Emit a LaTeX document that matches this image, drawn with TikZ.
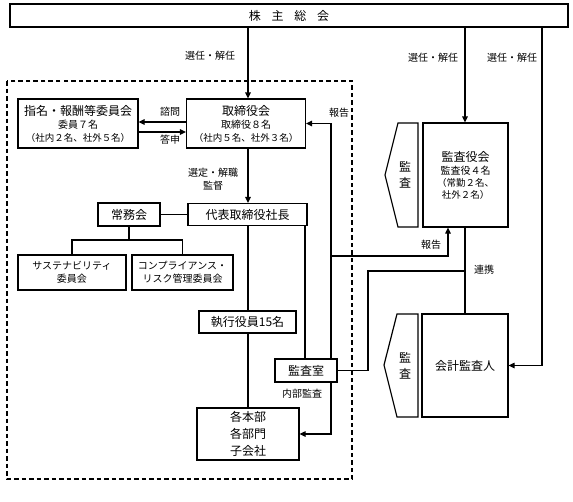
\documentclass[tikz,border=0pt]{standalone}
\usepackage{fontspec}
\setmainfont{Noto Sans CJK JP}
\usetikzlibrary{arrows.meta}
\newcommand{\fA}{\fontsize{12}{14}\selectfont}
\newcommand{\fB}{\fontsize{10}{12.5}\selectfont}
\newcommand{\fC}{\fontsize{9.5}{12}\selectfont}
\begin{document}
\begin{tikzpicture}[x=1pt,y=-1pt,
  box/.style={draw,line width=1.2pt,inner sep=0pt,align=center,font=\fA},
  lbl/.style={inner sep=0pt,align=center,font=\fB},
  ln/.style={line width=1.2pt},
  arr/.style={ln,-{Triangle[length=6pt,width=5.5pt]}},
]
\useasboundingbox (0,0) rectangle (573,501);
% frame of the board
\draw[line width=1.2pt,dash pattern=on 4.5pt off 3pt] (7,81) rectangle (352,479);
% nodes
\node[box,minimum width=558pt,minimum height=23pt] (sh) at (289,15.5) {株\hspace{0.9em}主\hspace{0.9em}総\hspace{0.9em}会};
\node[box,minimum width=120pt,minimum height=49pt] (nom) at (78,123.5) {指名・報酬等委員会\\[-1pt]{\fB 委員７名}\\[-1pt]{\fC （社内２名、社外５名）}};
\node[box,minimum width=119pt,minimum height=49pt] (board) at (246,123.5) {取締役会\\[-1pt]{\fB 取締役８名}\\[-1pt]{\fC （社内５名、社外３名）}};
\node[box,minimum width=62pt,minimum height=23pt] (jomu) at (129,214.5) {常務会};
\node[box,minimum width=119pt,minimum height=22pt] (pres) at (247.5,214.5) {代表取締役社長};
\node[box,minimum width=108pt,minimum height=35pt,font=\fB] (sus) at (72,272.5) {サステナビリティ\\委員会};
\node[box,minimum width=101pt,minimum height=35pt,font=\fB] (comp) at (182.5,272.5) {コンプライアンス・\\リスク管理委員会};
\node[box,minimum width=97pt,minimum height=22pt] (exec) at (247.5,322) {執行役員15名};
\node[box,minimum width=62pt,minimum height=23pt] (aud) at (306,370.5) {監査室};
\node[box,minimum width=102pt,minimum height=52pt,font=\fontsize{12}{17}\selectfont] (dep) at (248,434) {各本部\\各部門\\子会社};
\node[box,minimum width=85pt,minimum height=104pt] (kan) at (465.5,175) {監査役会\\[-1pt]{\fB 監査役４名}\\[-2pt]{\fC （常勤２名、}\\[-2pt]{\fC 社外２名）}};
\node[box,minimum width=86pt,minimum height=103pt] (kai) at (465,365.5) {会計監査人};
% pentagons
\draw[ln] (418,123) -- (398,123) -- (385,175) -- (398,227) -- (418,227) -- cycle;
\node[inner sep=0pt,align=center,font=\fontsize{12}{16}\selectfont] (p1) at (405,175) {監\\査};
\draw[ln] (418,314) -- (397,314) -- (384,365) -- (397,417) -- (418,417) -- cycle;
\node[inner sep=0pt,align=center,font=\fontsize{12}{16}\selectfont] (p2) at (405,366) {監\\査};
% column coordinates
\coordinate (xa) at (248,0);
\coordinate (xb) at (305,0);
\coordinate (xc) at (331,0);
\coordinate (xe) at (448,0);
\coordinate (xf) at (465,0);
\coordinate (xg) at (542,0);
\coordinate (y1) at (0,122);
\coordinate (y2) at (0,132);
\coordinate (j1) at (129,240);
\coordinate (r1) at (331,256);
\coordinate (r2) at (368,271);
% connectors
\draw[arr] (sh.south -| xa) -- (board.north -| xa);
\node[lbl] (l1) at (210,56) {選任・解任};
\draw[arr] (sh.south -| xf) -- (kan.north -| xf);
\node[lbl] (l2) at (433,58) {選任・解任};
\draw[arr] (sh.south -| xg) |- (kai.east);
\node[lbl] (l3) at (512,58) {選任・解任};
\draw[arr] (board.west |- y1) -- (nom.east |- y1);
\draw[arr] (nom.east |- y2) -- (board.west |- y2);
\node[lbl] (l4) at (170,112) {諮問};
\node[lbl] (l5) at (170,140) {答申};
\draw[arr] (board.south -| xa) -- (pres.north -| xa);
\node[lbl] (l6) at (213,179) {選定・解職\\監督};
\draw[ln] (jomu) -- (pres);
\draw[ln] (jomu.south) -- (j1);
\draw[ln] (sus.north) |- (j1) -| (comp.north);
\draw[ln] (pres.south -| xa) -- (exec.north -| xa);
\draw[ln] (pres.south -| xb) -- (aud.north -| xb);
\draw[ln] (exec.south -| xa) -- (dep.north -| xa);
\draw[arr] (aud.north -| xc) |- (board.east);
\node[lbl] (l7) at (339,113) {報告};
\draw[arr] (aud.south -| xc) |- (dep.east);
\node[lbl] (l8) at (302,394) {内部監査};
\draw[arr] (r1) -| (kan.south -| xe);
\node[lbl] (l9) at (431,245) {報告};
\draw[ln] (aud.east) -| (r2) -- (r2 -| xf);
\draw[ln] (kan.south -| xf) -- (kai.north -| xf);
\node[lbl] (l10) at (484,270) {連携};
\end{tikzpicture}
\end{document}
